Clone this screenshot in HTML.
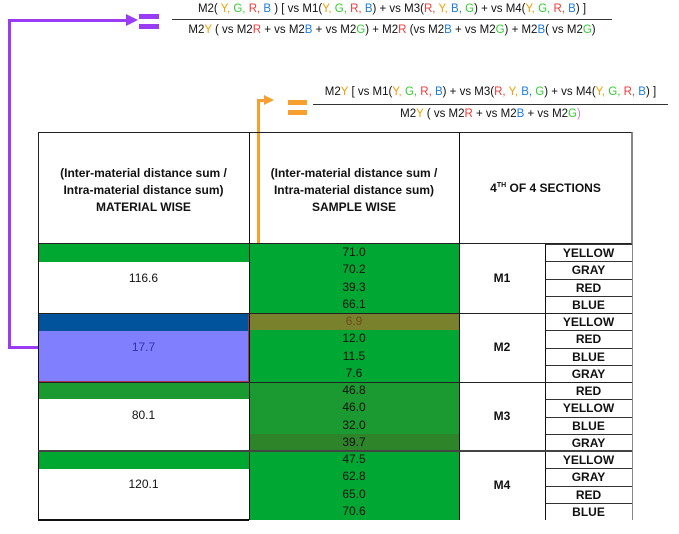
<!DOCTYPE html>
<html><head><meta charset="utf-8"><style>
body{margin:0;width:679px;height:534px;background:#fff;position:relative;overflow:hidden;font-family:"Liberation Sans",sans-serif;color:#111}
.a{position:absolute}
.f{font-size:11.5px;white-space:nowrap;text-align:center}
.y{color:#f4a000}.g{color:#33cc33}.r{color:#f03a3a}.b{color:#1e7ee0}
.c{position:absolute;text-align:center;font-size:12px;line-height:17.25px}
.lab{position:absolute;left:545px;width:87px;height:17.25px;font-size:12px;font-weight:bold;text-align:center;line-height:17px;border-top:1px solid #333;box-sizing:border-box}
</style></head><body>
<div class="a" style="left:8px;top:19px;width:3px;height:330px;background:#9b3cf5"></div>
<div class="a" style="left:8px;top:19px;width:122px;height:3px;background:#9b3cf5"></div>
<div class="a" style="left:8px;top:346px;width:30px;height:3px;background:#9b3cf5"></div>
<div class="a" style="left:126px;top:14px;width:0;height:0;border-left:12px solid #9b3cf5;border-top:6px solid transparent;border-bottom:6px solid transparent"></div>
<div class="a" style="left:139px;top:14px;width:20px;height:5px;background:#9b3cf5;box-shadow:0 10px 0 #9b3cf5"></div>

<div class="a f" style="left:172px;top:3px;width:440px">M2( <span class="y">Y,</span> <span class="g">G,</span> <span class="r">R,</span> <span class="b">B</span> ) [ vs M1(<span class="y">Y,</span> <span class="g">G,</span> <span class="r">R,</span> <span class="b">B</span>) + vs M3(<span class="r">R,</span> <span class="y">Y,</span> <span class="b">B,</span> <span class="g">G</span>) + vs M4(<span class="y">Y,</span> <span class="g">G,</span> <span class="r">R,</span> <span class="b">B</span>) ]</div>
<div class="a" style="left:172px;top:19px;width:440px;height:1px;background:#333"></div>
<div class="a f" style="left:172px;top:24px;width:440px">M2<span class="y">Y</span> ( vs M2<span class="r">R</span> + vs M2<span class="b">B</span> + vs M2<span class="g">G</span>) + M2<span class="r">R</span> (vs M2<span class="b">B</span> + vs M2<span class="g">G</span>) + M2<span class="b">B</span>( vs M2<span class="g">G</span>)</div>

<div class="a" style="left:257px;top:99px;width:3px;height:214px;background:#f7a030"></div>
<div class="a" style="left:257px;top:99px;width:10px;height:3px;background:#f7a030"></div>
<div class="a" style="left:264px;top:95px;width:0;height:0;border-left:10px solid #f7a030;border-top:5px solid transparent;border-bottom:5px solid transparent"></div>
<div class="a" style="left:288px;top:100px;width:19px;height:5px;background:#f7a030;box-shadow:0 10px 0 #f7a030"></div>

<div class="a f" style="left:313px;top:86px;width:355px">M2<span class="y">Y</span> [ vs M1(<span class="y">Y,</span> <span class="g">G,</span> <span class="r">R,</span> <span class="b">B</span>) + vs M3(<span class="r">R,</span> <span class="y">Y,</span> <span class="b">B,</span> <span class="g">G</span>) + vs M4(<span class="y">Y,</span> <span class="g">G,</span> <span class="r">R,</span> <span class="b">B</span>) ]</div>
<div class="a" style="left:313px;top:104px;width:355px;height:1px;background:#333"></div>
<div class="a f" style="left:313px;top:108px;width:355px">M2<span class="y">Y</span> ( vs M2<span class="r">R</span> + vs M2<span class="b">B</span> + vs M2<span class="g">G</span><span style="color:#e070e0">)</span></div>

<!-- table -->
<div class="a" style="left:38px;top:132px;width:594px;height:112px;border:1px solid #222;box-sizing:border-box;border-right-color:#888"></div>
<div class="a" style="left:38px;top:165px;width:211px;text-align:center;font-size:12px;font-weight:bold;line-height:17px">(Inter-material distance sum /<br>Intra-material distance sum)<br>MATERIAL WISE</div>
<div class="a" style="left:249px;top:165px;width:210px;text-align:center;font-size:12px;font-weight:bold;line-height:17px">(Inter-material distance sum /<br>Intra-material distance sum)<br>SAMPLE WISE</div>
<div class="a" style="left:459px;top:181px;width:173px;text-align:center;font-size:12px;font-weight:bold">4<sup style="font-size:7px">TH</sup> OF 4 SECTIONS</div>

<div class="a" style="left:38px;top:244px;width:211px;height:18px;background:#00a832"></div>
<div class="a" style="left:38px;top:313px;width:211px;height:18px;background:#01549c"></div>
<div class="a" style="left:38px;top:331px;width:211px;height:51px;background:#8080ff"></div>
<div class="a" style="left:38px;top:313px;width:211px;height:69px;border:1px solid #b03050;box-sizing:border-box"></div>
<div class="a" style="left:38px;top:382px;width:211px;height:17px;background:#1a9a30"></div>
<div class="a" style="left:38px;top:451px;width:211px;height:18px;background:#00a832"></div>
<div class="c" style="left:38px;top:270px;width:211px">116.6</div>
<div class="c" style="left:38px;top:339px;width:211px;color:#3030b0">17.7</div>
<div class="c" style="left:38px;top:407px;width:211px">80.1</div>
<div class="c" style="left:38px;top:476px;width:211px">120.1</div>

<div id="samples"></div>

<div class="a" style="left:38px;top:244px;width:1px;height:276px;background:#111"></div>
<div class="a" style="left:249px;top:132px;width:1px;height:388px;background:#111"></div>
<div class="a" style="left:459px;top:132px;width:1px;height:388px;background:#111"></div>
<div class="a" style="left:545px;top:244px;width:1px;height:276px;background:#111"></div>
<div class="a" style="left:632px;top:132px;width:1px;height:388px;background:#888"></div>
<div class="a" style="left:38px;top:519px;width:211px;height:2px;background:#111"></div>
<div class="a" style="left:38px;top:313px;width:594px;height:1px;background:#222"></div>
<div class="a" style="left:38px;top:382px;width:594px;height:1px;background:#222"></div>
<div class="a" style="left:38px;top:450px;width:594px;height:2px;background:#444"></div>

<script>
const groups=['M1','M2','M3','M4'];
const sampleValues=[71.0,70.2,39.3,66.1,6.9,12.0,11.5,7.6,46.8,46.0,32.0,39.7,47.5,62.8,65.0,70.6];
const colorLabels=['YELLOW','GRAY','RED','BLUE','YELLOW','RED','BLUE','GRAY','RED','YELLOW','BLUE','GRAY','YELLOW','GRAY','RED','BLUE'];
const top0=244,rowH=17.25;
const host=document.getElementById('samples');
sampleValues.forEach((v,i)=>{
  const d=document.createElement('div');
  d.className='c';
  
  
  let bg=i<8?'#00a833':'#1a9a30';
  let col='#111';
  if(i===4){bg='#7a812c';col='#6b4d1c';}
  if(i===11)bg='#2e8428';
  if(i>=12)bg='#00a833';
  d.style.cssText=`left:249px;top:${top0+i*rowH}px;width:210px;height:${rowH}px;background:${bg};color:${col}`;
  d.textContent=v.toFixed(1);
  host.appendChild(d);
  const l=document.createElement('div');
  l.className='lab';
  
  
  l.style.top=(top0+i*rowH)+'px';
  l.textContent=colorLabels[i];
  host.appendChild(l);
});
groups.forEach((g,k)=>{
  const d=document.createElement('div');
  d.className='c';
  
  
  d.style.cssText=`left:459px;top:${top0+k*4*rowH+26}px;width:86px;font-weight:bold`;
  d.textContent=g;
  host.appendChild(d);
});
</script>
</body></html>
